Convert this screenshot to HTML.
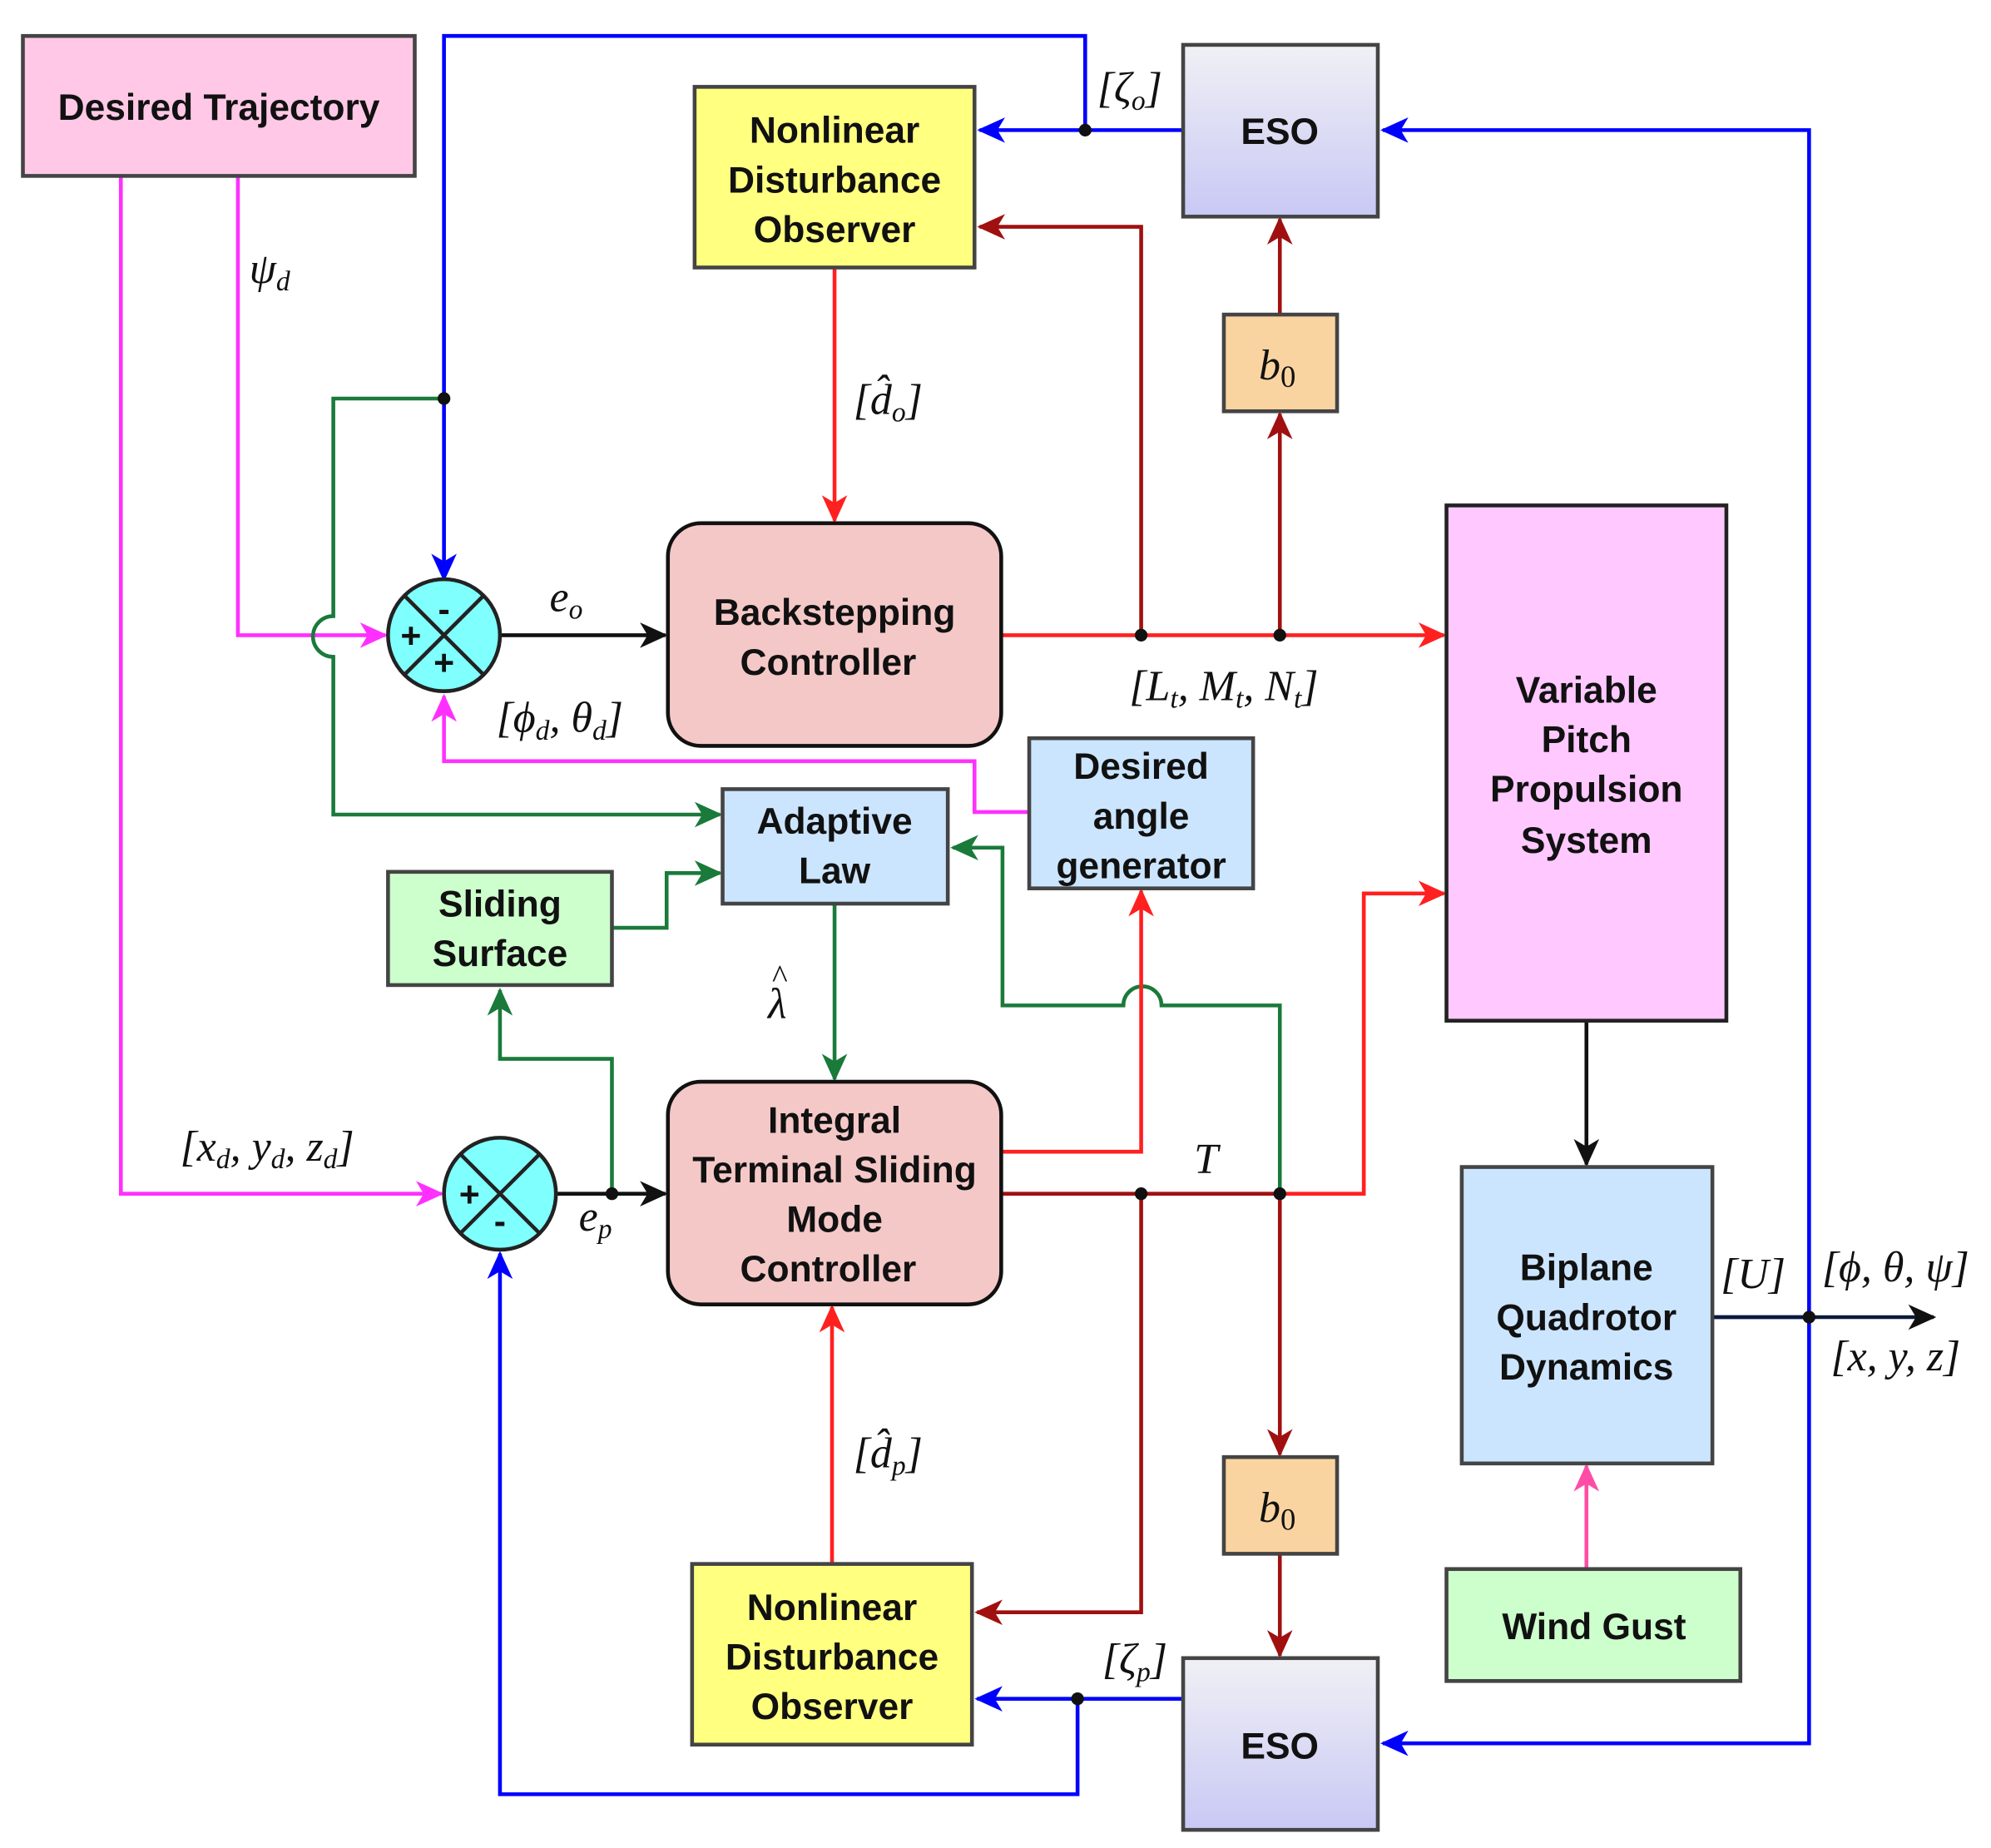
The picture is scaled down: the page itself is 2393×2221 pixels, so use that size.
<!DOCTYPE html>
<html><head><meta charset="utf-8"><style>
html,body{margin:0;padding:0;background:#fff}
svg{display:block}
.b{font-family:"Liberation Sans",sans-serif;font-weight:bold;font-size:29px;fill:#111;text-anchor:middle}
.m{font-family:"Liberation Serif",serif;font-style:italic;font-size:34px;fill:#111;text-anchor:middle}
</style></head><body>
<svg width="2393" height="2221" viewBox="0 0 1565 1452" xmlns="http://www.w3.org/2000/svg">
<defs>
<linearGradient id="eg" x1="0" y1="0" x2="0" y2="1"><stop offset="0" stop-color="#f0f0f5"/><stop offset="1" stop-color="#c8c8f5"/></linearGradient>
<marker id="ab" markerWidth="22" markerHeight="22" refX="20" refY="11" orient="auto" markerUnits="userSpaceOnUse"><path d="M0,1 L22,11 L0,21 L6,11z" fill="#0000ff"/></marker>
<marker id="ar" markerWidth="22" markerHeight="22" refX="20" refY="11" orient="auto" markerUnits="userSpaceOnUse"><path d="M0,1 L22,11 L0,21 L6,11z" fill="#ff2020"/></marker>
<marker id="ad" markerWidth="22" markerHeight="22" refX="20" refY="11" orient="auto" markerUnits="userSpaceOnUse"><path d="M0,1 L22,11 L0,21 L6,11z" fill="#a01010"/></marker>
<marker id="ag" markerWidth="22" markerHeight="22" refX="20" refY="11" orient="auto" markerUnits="userSpaceOnUse"><path d="M0,1 L22,11 L0,21 L6,11z" fill="#1a7a3a"/></marker>
<marker id="am" markerWidth="22" markerHeight="22" refX="20" refY="11" orient="auto" markerUnits="userSpaceOnUse"><path d="M0,1 L22,11 L0,21 L6,11z" fill="#ff30ff"/></marker>
<marker id="ap" markerWidth="22" markerHeight="22" refX="20" refY="11" orient="auto" markerUnits="userSpaceOnUse"><path d="M0,1 L22,11 L0,21 L6,11z" fill="#ff4da6"/></marker>
<marker id="aK" markerWidth="22" markerHeight="22" refX="20" refY="11" orient="auto" markerUnits="userSpaceOnUse"><path d="M0,1 L22,11 L0,21 L6,11z" fill="#111"/></marker>
</defs>
<g fill="none" stroke-width="3">
<g stroke="#0000ff">
<path d="M930,102 H770" marker-end="url(#ab)"/>
<path d="M853,102 V28 H349 V455" marker-end="url(#ab)"/>
<path d="M1346,1035 H1422 V102 H1087" marker-end="url(#ab)"/>
<path d="M1422,1035 V1370 H1087" marker-end="url(#ab)"/>
<path d="M930,1335 H768" marker-end="url(#ab)"/>
<path d="M847,1335 V1410 H393 V985" marker-end="url(#ab)"/>
</g>
<g stroke="#ff30ff">
<path d="M95,138 V938 H347" marker-end="url(#am)"/>
<path d="M187,138 V499 H303" marker-end="url(#am)"/>
<path d="M809,638 H766 V598 H349 V547" marker-end="url(#am)"/>
</g>
<g stroke="#1a7a3a">
<path d="M349,313 H262 V484 A16,16 0 0 0 262,516 V640 H566" marker-end="url(#ag)"/>
<path d="M481,729 H524 V686 H566" marker-end="url(#ag)"/>
<path d="M656,710 V848" marker-end="url(#ag)"/>
<path d="M481,938 V832 H393 V778" marker-end="url(#ag)"/>
<path d="M1006,938 V790 H913 A15,15 0 0 0 883,790 H788 V666 H749" marker-end="url(#ag)"/>
</g>
<g stroke="#111">
<path d="M393,499 H523" marker-end="url(#aK)"/>
<path d="M437,938 H523" marker-end="url(#aK)"/>
<path d="M1247,802 V915" marker-end="url(#aK)"/>
<path d="M1346,1035 H1520" stroke="#0a1a3a" marker-end="url(#aK)"/>
</g>
<g stroke="#ff2020">
<path d="M787,499 H1135" marker-end="url(#ar)"/>
<path d="M656,210 V409" marker-end="url(#ar)"/>
<path d="M787,905 H897 V700" marker-end="url(#ar)"/>
<path d="M1006,938 H1072 V702 H1135" marker-end="url(#ar)"/>
<path d="M654,1229 V1027" marker-end="url(#ar)"/>
</g>
<g stroke="#a01010">
<path d="M897,499 V178 H770" marker-end="url(#ad)"/>
<path d="M1006,499 V325" marker-end="url(#ad)"/>
<path d="M1006,247 V172" marker-end="url(#ad)"/>
<path d="M787,938 H1006"/>
<path d="M897,938 V1267 H768" marker-end="url(#ad)"/>
<path d="M1006,938 V1143" marker-end="url(#ad)"/>
<path d="M1006,1221 V1301" marker-end="url(#ad)"/>
</g>
<path d="M1247,1233 V1152" stroke="#ff4da6" marker-end="url(#ap)"/>
</g>
<g fill="#111">
<circle cx="853" cy="102" r="5"/><circle cx="349" cy="313" r="5"/><circle cx="897" cy="499" r="5"/><circle cx="1006" cy="499" r="5"/>
<circle cx="481" cy="938" r="5"/><circle cx="897" cy="938" r="5"/><circle cx="1006" cy="938" r="5"/><circle cx="847" cy="1335" r="5"/><circle cx="1422" cy="1035" r="5"/>
</g>
<g stroke="#444" stroke-width="3">
<rect x="18" y="28" width="308" height="110" fill="#ffc8e6"/>
<rect x="546" y="68" width="220" height="142" fill="#ffff80"/>
<rect x="930" y="35" width="153" height="135" fill="url(#eg)"/>
<rect x="962" y="247" width="89" height="76" fill="#fad4a0"/>
<rect x="525" y="411" width="262" height="175" rx="26" fill="#f5c8c8" stroke="#111"/>
<rect x="1137" y="397" width="220" height="405" fill="#ffc8ff" stroke="#222"/>
<rect x="809" y="580" width="176" height="118" fill="#cce5ff"/>
<rect x="568" y="620" width="177" height="90" fill="#cce5ff"/>
<rect x="305" y="685" width="176" height="89" fill="#ccffcc"/>
<rect x="525" y="850" width="262" height="175" rx="26" fill="#f5c8c8" stroke="#111"/>
<rect x="1149" y="917" width="197" height="233" fill="#cce5ff"/>
<rect x="962" y="1145" width="89" height="76" fill="#fad4a0"/>
<rect x="1137" y="1233" width="231" height="88" fill="#ccffcc"/>
<rect x="544" y="1229" width="220" height="142" fill="#ffff80"/>
<rect x="930" y="1303" width="153" height="135" fill="url(#eg)"/>
</g>
<g stroke="#222" stroke-width="3">
<circle cx="349" cy="499" r="44" fill="#80ffff"/>
<path d="M318,468 L380,530 M380,468 L318,530"/>
<circle cx="393" cy="938" r="44" fill="#80ffff"/>
<path d="M362,907 L424,969 M424,907 L362,969"/>
</g>
<g class="b" style="font-size:28px">
<text x="349" y="488">-</text><text x="323" y="509">+</text><text x="349" y="530">+</text>
<text x="369" y="948">+</text><text x="393" y="969">-</text>
</g>
<g class="b">
<text x="172" y="94">Desired Trajectory</text>
<text x="656" y="112">Nonlinear</text><text x="656" y="151">Disturbance</text><text x="656" y="190">Observer</text>
<text x="1006" y="113">ESO</text>
<text x="656" y="491">Backstepping</text><text x="651" y="530">Controller</text>
<text x="1247" y="552">Variable</text><text x="1247" y="591">Pitch</text><text x="1247" y="630">Propulsion</text><text x="1247" y="670">System</text>
<text x="897" y="612">Desired</text><text x="897" y="651">angle</text><text x="897" y="690">generator</text>
<text x="656" y="655">Adaptive</text><text x="656" y="694">Law</text>
<text x="393" y="720">Sliding</text><text x="393" y="759">Surface</text>
<text x="656" y="890">Integral</text><text x="656" y="929">Terminal Sliding</text><text x="656" y="968">Mode</text><text x="651" y="1007">Controller</text>
<text x="1247" y="1006">Biplane</text><text x="1247" y="1045">Quadrotor</text><text x="1247" y="1084">Dynamics</text>
<text x="1253" y="1288">Wind Gust</text>
<text x="654" y="1273">Nonlinear</text><text x="654" y="1312">Disturbance</text><text x="654" y="1351">Observer</text>
<text x="1006" y="1382">ESO</text>
</g>
<g class="m">
<text x="1004" y="298">b<tspan font-size="24" font-style="normal" dy="6">0</tspan></text>
<text x="1004" y="1196">b<tspan font-size="24" font-style="normal" dy="6">0</tspan></text>
<text x="212" y="222">ψ<tspan font-size="22" dy="6">d</tspan></text>
<text x="445" y="480">e<tspan font-size="22" dy="6">o</tspan></text>
<text x="440" y="575">[ϕ<tspan font-size="22" dy="6">d</tspan><tspan dy="-6">, θ</tspan><tspan font-size="22" dy="6">d</tspan><tspan dy="-6">]</tspan></text>
<text x="698" y="325">[d̂<tspan font-size="22" dy="6">o</tspan><tspan dy="-6">]</tspan></text>
<text x="962" y="550">[L<tspan font-size="22" dy="6">t</tspan><tspan dy="-6">, M</tspan><tspan font-size="22" dy="6">t</tspan><tspan dy="-6">, N</tspan><tspan font-size="22" dy="6">t</tspan><tspan dy="-6">]</tspan></text>
<text x="888" y="80">[ζ<tspan font-size="22" dy="6">o</tspan><tspan dy="-6">]</tspan></text>
<text x="611" y="800">λ</text>
<text x="613" y="776" style="font-style:normal;font-size:26px">^</text>
<text x="948" y="922">T</text>
<text x="210" y="912">[x<tspan font-size="22" dy="6">d</tspan><tspan dy="-6">, y</tspan><tspan font-size="22" dy="6">d</tspan><tspan dy="-6">, z</tspan><tspan font-size="22" dy="6">d</tspan><tspan dy="-6">]</tspan></text>
<text x="468" y="967">e<tspan font-size="22" dy="6">p</tspan></text>
<text x="698" y="1153">[d̂<tspan font-size="22" dy="6">p</tspan><tspan dy="-6">]</tspan></text>
<text x="892" y="1315">[ζ<tspan font-size="22" dy="6">p</tspan><tspan dy="-6">]</tspan></text>
<text x="1378" y="1012">[U]</text>
<text x="1490" y="1007">[ϕ, θ, ψ]</text>
<text x="1490" y="1077">[x, y, z]</text>
</g>
</svg>
</body></html>
